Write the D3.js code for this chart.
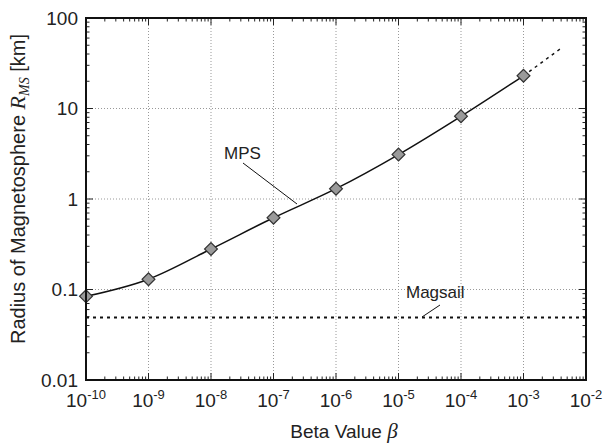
<!DOCTYPE html>
<html lang="en">
<head>
    <meta charset="UTF-8">
    <title>Radius of Magnetosphere</title>
    <script src="https://d3js.org/d3.v7.min.js"></script>
    <style>
        body { margin: 0; background: #fff; }
        text {
            font-family: 'Liberation Sans', Arial, sans-serif;
            fill: #222;
        }
        .grid line { stroke: #999; stroke-dasharray: 1,2; stroke-width: 1; }
        .sym { font-family: 'Liberation Serif', 'Times New Roman', serif; font-style: italic; }
    </style>
</head>
<body>
<script>
    const width  = 604;
    const height = 443;
    const margin = {top: 18, right: 18, bottom: 63, left: 86};

    // MPS values
    const beta    = [1e-10, 1e-9, 1e-8, 1e-7, 1e-6, 1e-5, 1e-4, 1e-3];
    const rmsMPS  = [0.084, 0.13, 0.28, 0.62, 1.3, 3.1, 8.2, 23];
    // dashed extrapolation past the last point
    const betaExt = [1e-3, 4.3e-3];
    const rmsExt  = [23, 48];
    // Magsail level
    const rmsMagsail = 0.049;

    const xTicks = [-10, -9, -8, -7, -6, -5, -4, -3, -2];
    const yTicks = [100, 10, 1, 0.1, 0.01];
    const yTickLabels = ["100", "10", "1", "0.1", "0.01"];

    const svg = d3.select("body").append("svg")
        .attr("width", width).attr("height", height);

    const x = d3.scaleLog().domain([1e-10, 1e-2]).range([margin.left, width - margin.right]);
    const y = d3.scaleLog().domain([0.01, 100]).range([height - margin.bottom, margin.top]);

    const x0 = margin.left, x1 = width - margin.right;
    const y0 = height - margin.bottom, y1 = margin.top;

    // grid
    const grid = svg.append("g").attr("class", "grid");
    grid.selectAll(".gx").data(xTicks.slice(1, -1)).enter().append("line")
        .attr("x1", d => x(Math.pow(10, d))).attr("x2", d => x(Math.pow(10, d)))
        .attr("y1", y0).attr("y2", y1);
    grid.selectAll(".gy").data(yTicks.slice(1, -1)).enter().append("line")
        .attr("y1", d => y(d)).attr("y2", d => y(d))
        .attr("x1", x0).attr("x2", x1);

    // ticks, inward on all four sides
    const ticks = svg.append("g").attr("stroke", "#222").attr("stroke-width", 1);
    const xMinor = [], yMinor = [];
    for (let e = -10; e < -2; e++) for (let m = 2; m < 10; m++) xMinor.push(m * Math.pow(10, e));
    for (let e = -2; e < 2; e++) for (let m = 2; m < 10; m++) yMinor.push(m * Math.pow(10, e));

    xTicks.forEach(e => {
        const px = x(Math.pow(10, e));
        ticks.append("line").attr("x1", px).attr("x2", px).attr("y1", y0).attr("y2", y0 - 7);
        ticks.append("line").attr("x1", px).attr("x2", px).attr("y1", y1).attr("y2", y1 + 7);
    });
    xMinor.forEach(v => {
        const px = x(v);
        ticks.append("line").attr("x1", px).attr("x2", px).attr("y1", y0).attr("y2", y0 - 3.5);
        ticks.append("line").attr("x1", px).attr("x2", px).attr("y1", y1).attr("y2", y1 + 3.5);
    });
    yTicks.forEach(v => {
        const py = y(v);
        ticks.append("line").attr("y1", py).attr("y2", py).attr("x1", x0).attr("x2", x0 + 7);
        ticks.append("line").attr("y1", py).attr("y2", py).attr("x1", x1).attr("x2", x1 - 7);
    });
    yMinor.forEach(v => {
        const py = y(v);
        ticks.append("line").attr("y1", py).attr("y2", py).attr("x1", x0).attr("x2", x0 + 3.5);
        ticks.append("line").attr("y1", py).attr("y2", py).attr("x1", x1).attr("x2", x1 - 3.5);
    });

    // Magsail dotted line
    svg.append("line")
        .attr("x1", x0).attr("x2", x1)
        .attr("y1", y(rmsMagsail)).attr("y2", y(rmsMagsail))
        .attr("stroke", "#111").attr("stroke-width", 2)
        .attr("stroke-dasharray", "3,4");

    // MPS curve
    const pts = beta.map((b, i) => [b, rmsMPS[i]]);
    const line = d3.line()
        .x(d => x(d[0])).y(d => y(d[1]))
        .curve(d3.curveMonotoneX);
    svg.append("path").datum(pts)
        .attr("d", line)
        .attr("fill", "none").attr("stroke", "#111").attr("stroke-width", 1.5);

    svg.append("path").datum(betaExt.map((b, i) => [b, rmsExt[i]]))
        .attr("d", d3.line().x(d => x(d[0])).y(d => y(d[1])))
        .attr("fill", "none").attr("stroke", "#111").attr("stroke-width", 1.5)
        .attr("stroke-dasharray", "3,4");

    // diamond markers
    svg.selectAll(".mk").data(pts).enter().append("path")
        .attr("transform", d => `translate(${x(d[0])},${y(d[1])}) rotate(45)`)
        .attr("d", d3.symbol().type(d3.symbolSquare).size(82))
        .attr("fill", "#9a9a9a").attr("stroke", "#333").attr("stroke-width", 1.2);

    // frame
    svg.append("rect")
        .attr("x", x0).attr("y", y1)
        .attr("width", x1 - x0).attr("height", y0 - y1)
        .attr("fill", "none").attr("stroke", "#111").attr("stroke-width", 2);

    // tick labels
    svg.selectAll(".yl").data(yTicks).enter().append("text")
        .attr("x", x0 - 8).attr("y", d => y(d))
        .attr("dy", "0.36em")
        .attr("text-anchor", "end")
        .attr("font-size", 19)
        .text((d, i) => yTickLabels[i]);

    const xl = svg.selectAll(".xl").data(xTicks).enter().append("text")
        .attr("x", d => x(Math.pow(10, d)))
        .attr("y", y0 + 27)
        .attr("text-anchor", "middle")
        .attr("font-size", 19);
    xl.append("tspan").text("10");
    xl.append("tspan").attr("dy", -8).attr("font-size", 13).text(d => String(d));

    // annotations
    svg.append("text").attr("x", 224).attr("y", 159).attr("font-size", 17).text("MPS");
    svg.append("line").attr("x1", 243).attr("y1", 163).attr("x2", 297).attr("y2", 204)
        .attr("stroke", "#111").attr("stroke-width", 1);

    svg.append("text").attr("x", 406).attr("y", 298).attr("font-size", 17).text("Magsail");
    svg.append("line").attr("x1", 440).attr("y1", 305).attr("x2", 422).attr("y2", 317)
        .attr("stroke", "#111").attr("stroke-width", 1);

    // axis titles
    const xt = svg.append("text")
        .attr("x", (x0 + x1) / 2 + 8).attr("y", 438)
        .attr("text-anchor", "middle")
        .attr("font-size", 19);
    xt.append("tspan").text("Beta Value  ");
    xt.append("tspan").attr("class", "sym").attr("font-size", 21).text("β");

    const yt = svg.append("text")
        .attr("transform", `translate(25, ${(y0 + y1) / 2 - 10}) rotate(-90)`)
        .attr("text-anchor", "middle")
        .attr("font-size", 20);
    yt.append("tspan").text("Radius of Magnetosphere ");
    yt.append("tspan").attr("class", "sym").attr("font-size", 22).text("R");
    yt.append("tspan").attr("class", "sym").attr("font-size", 14).attr("dy", 4).text("MS");
    yt.append("tspan").attr("dy", -4).text(" [km]");
</script>
</body>
</html>
